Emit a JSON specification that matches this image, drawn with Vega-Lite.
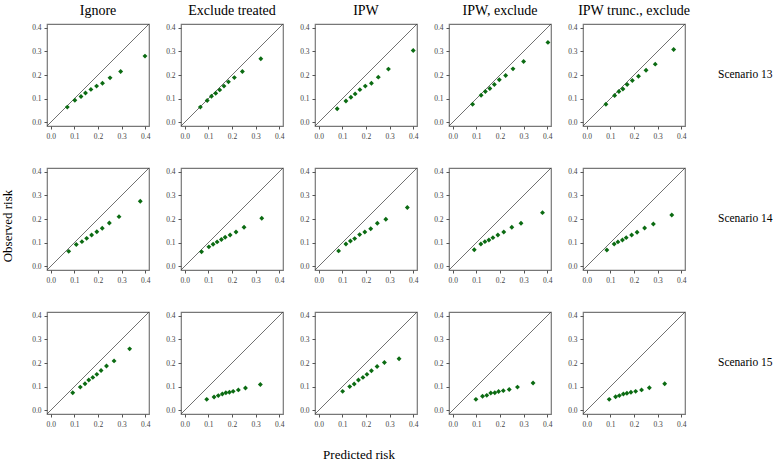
{
"$schema": "https://vega.github.io/schema/vega-lite/v6.json",
"background": "white",
"padding": {"left": 2, "top": 4, "right": 2, "bottom": 2},
"bounds": "flush",
"data": {"values": [
{"m":"Ignore","s":"Scenario 13","k":1,"p":0.070,"o":0.064},{"m":"Ignore","s":"Scenario 13","k":2,"p":0.102,"o":0.093},{"m":"Ignore","s":"Scenario 13","k":3,"p":0.128,"o":0.109},{"m":"Ignore","s":"Scenario 13","k":4,"p":0.147,"o":0.124},{"m":"Ignore","s":"Scenario 13","k":5,"p":0.170,"o":0.139},{"m":"Ignore","s":"Scenario 13","k":6,"p":0.194,"o":0.153},{"m":"Ignore","s":"Scenario 13","k":7,"p":0.219,"o":0.165},{"m":"Ignore","s":"Scenario 13","k":8,"p":0.251,"o":0.188},{"m":"Ignore","s":"Scenario 13","k":9,"p":0.296,"o":0.215},{"m":"Ignore","s":"Scenario 13","k":10,"p":0.399,"o":0.280},
{"m":"Exclude treated","s":"Scenario 13","k":1,"p":0.066,"o":0.064},{"m":"Exclude treated","s":"Scenario 13","k":2,"p":0.095,"o":0.092},{"m":"Exclude treated","s":"Scenario 13","k":3,"p":0.113,"o":0.110},{"m":"Exclude treated","s":"Scenario 13","k":4,"p":0.131,"o":0.123},{"m":"Exclude treated","s":"Scenario 13","k":5,"p":0.148,"o":0.137},{"m":"Exclude treated","s":"Scenario 13","k":6,"p":0.166,"o":0.153},{"m":"Exclude treated","s":"Scenario 13","k":7,"p":0.185,"o":0.171},{"m":"Exclude treated","s":"Scenario 13","k":8,"p":0.210,"o":0.189},{"m":"Exclude treated","s":"Scenario 13","k":9,"p":0.244,"o":0.215},{"m":"Exclude treated","s":"Scenario 13","k":10,"p":0.322,"o":0.269},
{"m":"IPW","s":"Scenario 13","k":1,"p":0.078,"o":0.057},{"m":"IPW","s":"Scenario 13","k":2,"p":0.115,"o":0.090},{"m":"IPW","s":"Scenario 13","k":3,"p":0.136,"o":0.106},{"m":"IPW","s":"Scenario 13","k":4,"p":0.154,"o":0.120},{"m":"IPW","s":"Scenario 13","k":5,"p":0.174,"o":0.138},{"m":"IPW","s":"Scenario 13","k":6,"p":0.197,"o":0.153},{"m":"IPW","s":"Scenario 13","k":7,"p":0.223,"o":0.165},{"m":"IPW","s":"Scenario 13","k":8,"p":0.252,"o":0.191},{"m":"IPW","s":"Scenario 13","k":9,"p":0.295,"o":0.225},{"m":"IPW","s":"Scenario 13","k":10,"p":0.400,"o":0.304},
{"m":"IPW, exclude","s":"Scenario 13","k":1,"p":0.084,"o":0.076},{"m":"IPW, exclude","s":"Scenario 13","k":2,"p":0.120,"o":0.114},{"m":"IPW, exclude","s":"Scenario 13","k":3,"p":0.138,"o":0.130},{"m":"IPW, exclude","s":"Scenario 13","k":4,"p":0.157,"o":0.143},{"m":"IPW, exclude","s":"Scenario 13","k":5,"p":0.176,"o":0.160},{"m":"IPW, exclude","s":"Scenario 13","k":6,"p":0.197,"o":0.180},{"m":"IPW, exclude","s":"Scenario 13","k":7,"p":0.224,"o":0.198},{"m":"IPW, exclude","s":"Scenario 13","k":8,"p":0.255,"o":0.226},{"m":"IPW, exclude","s":"Scenario 13","k":9,"p":0.300,"o":0.257},{"m":"IPW, exclude","s":"Scenario 13","k":10,"p":0.403,"o":0.338},
{"m":"IPW trunc., exclude","s":"Scenario 13","k":1,"p":0.081,"o":0.076},{"m":"IPW trunc., exclude","s":"Scenario 13","k":2,"p":0.118,"o":0.113},{"m":"IPW trunc., exclude","s":"Scenario 13","k":3,"p":0.136,"o":0.130},{"m":"IPW trunc., exclude","s":"Scenario 13","k":4,"p":0.153,"o":0.141},{"m":"IPW trunc., exclude","s":"Scenario 13","k":5,"p":0.171,"o":0.160},{"m":"IPW trunc., exclude","s":"Scenario 13","k":6,"p":0.193,"o":0.177},{"m":"IPW trunc., exclude","s":"Scenario 13","k":7,"p":0.219,"o":0.195},{"m":"IPW trunc., exclude","s":"Scenario 13","k":8,"p":0.251,"o":0.220},{"m":"IPW trunc., exclude","s":"Scenario 13","k":9,"p":0.290,"o":0.246},{"m":"IPW trunc., exclude","s":"Scenario 13","k":10,"p":0.368,"o":0.308},
{"m":"Ignore","s":"Scenario 14","k":1,"p":0.076,"o":0.063},{"m":"Ignore","s":"Scenario 14","k":2,"p":0.108,"o":0.092},{"m":"Ignore","s":"Scenario 14","k":3,"p":0.132,"o":0.104},{"m":"Ignore","s":"Scenario 14","k":4,"p":0.152,"o":0.118},{"m":"Ignore","s":"Scenario 14","k":5,"p":0.173,"o":0.132},{"m":"Ignore","s":"Scenario 14","k":6,"p":0.195,"o":0.146},{"m":"Ignore","s":"Scenario 14","k":7,"p":0.218,"o":0.161},{"m":"Ignore","s":"Scenario 14","k":8,"p":0.248,"o":0.183},{"m":"Ignore","s":"Scenario 14","k":9,"p":0.289,"o":0.210},{"m":"Ignore","s":"Scenario 14","k":10,"p":0.379,"o":0.275},
{"m":"Exclude treated","s":"Scenario 14","k":1,"p":0.071,"o":0.061},{"m":"Exclude treated","s":"Scenario 14","k":2,"p":0.102,"o":0.082},{"m":"Exclude treated","s":"Scenario 14","k":3,"p":0.120,"o":0.093},{"m":"Exclude treated","s":"Scenario 14","k":4,"p":0.137,"o":0.103},{"m":"Exclude treated","s":"Scenario 14","k":5,"p":0.155,"o":0.113},{"m":"Exclude treated","s":"Scenario 14","k":6,"p":0.171,"o":0.123},{"m":"Exclude treated","s":"Scenario 14","k":7,"p":0.192,"o":0.132},{"m":"Exclude treated","s":"Scenario 14","k":8,"p":0.217,"o":0.145},{"m":"Exclude treated","s":"Scenario 14","k":9,"p":0.251,"o":0.165},{"m":"Exclude treated","s":"Scenario 14","k":10,"p":0.326,"o":0.203},
{"m":"IPW","s":"Scenario 14","k":1,"p":0.084,"o":0.065},{"m":"IPW","s":"Scenario 14","k":2,"p":0.115,"o":0.094},{"m":"IPW","s":"Scenario 14","k":3,"p":0.134,"o":0.107},{"m":"IPW","s":"Scenario 14","k":4,"p":0.152,"o":0.117},{"m":"IPW","s":"Scenario 14","k":5,"p":0.173,"o":0.134},{"m":"IPW","s":"Scenario 14","k":6,"p":0.195,"o":0.145},{"m":"IPW","s":"Scenario 14","k":7,"p":0.220,"o":0.159},{"m":"IPW","s":"Scenario 14","k":8,"p":0.248,"o":0.182},{"m":"IPW","s":"Scenario 14","k":9,"p":0.284,"o":0.199},{"m":"IPW","s":"Scenario 14","k":10,"p":0.375,"o":0.249},
{"m":"IPW, exclude","s":"Scenario 14","k":1,"p":0.091,"o":0.070},{"m":"IPW, exclude","s":"Scenario 14","k":2,"p":0.119,"o":0.094},{"m":"IPW, exclude","s":"Scenario 14","k":3,"p":0.136,"o":0.104},{"m":"IPW, exclude","s":"Scenario 14","k":4,"p":0.153,"o":0.111},{"m":"IPW, exclude","s":"Scenario 14","k":5,"p":0.170,"o":0.121},{"m":"IPW, exclude","s":"Scenario 14","k":6,"p":0.191,"o":0.132},{"m":"IPW, exclude","s":"Scenario 14","k":7,"p":0.216,"o":0.145},{"m":"IPW, exclude","s":"Scenario 14","k":8,"p":0.250,"o":0.165},{"m":"IPW, exclude","s":"Scenario 14","k":9,"p":0.289,"o":0.182},{"m":"IPW, exclude","s":"Scenario 14","k":10,"p":0.380,"o":0.227},
{"m":"IPW trunc., exclude","s":"Scenario 14","k":1,"p":0.085,"o":0.069},{"m":"IPW trunc., exclude","s":"Scenario 14","k":2,"p":0.116,"o":0.094},{"m":"IPW trunc., exclude","s":"Scenario 14","k":3,"p":0.132,"o":0.103},{"m":"IPW trunc., exclude","s":"Scenario 14","k":4,"p":0.151,"o":0.111},{"m":"IPW trunc., exclude","s":"Scenario 14","k":5,"p":0.167,"o":0.121},{"m":"IPW trunc., exclude","s":"Scenario 14","k":6,"p":0.190,"o":0.132},{"m":"IPW trunc., exclude","s":"Scenario 14","k":7,"p":0.213,"o":0.144},{"m":"IPW trunc., exclude","s":"Scenario 14","k":8,"p":0.245,"o":0.162},{"m":"IPW trunc., exclude","s":"Scenario 14","k":9,"p":0.282,"o":0.179},{"m":"IPW trunc., exclude","s":"Scenario 14","k":10,"p":0.360,"o":0.217},
{"m":"Ignore","s":"Scenario 15","k":1,"p":0.093,"o":0.074},{"m":"Ignore","s":"Scenario 15","k":2,"p":0.125,"o":0.098},{"m":"Ignore","s":"Scenario 15","k":3,"p":0.145,"o":0.112},{"m":"Ignore","s":"Scenario 15","k":4,"p":0.161,"o":0.128},{"m":"Ignore","s":"Scenario 15","k":5,"p":0.178,"o":0.139},{"m":"Ignore","s":"Scenario 15","k":6,"p":0.195,"o":0.152},{"m":"Ignore","s":"Scenario 15","k":7,"p":0.213,"o":0.168},{"m":"Ignore","s":"Scenario 15","k":8,"p":0.236,"o":0.187},{"m":"Ignore","s":"Scenario 15","k":9,"p":0.268,"o":0.209},{"m":"Ignore","s":"Scenario 15","k":10,"p":0.334,"o":0.260},
{"m":"Exclude treated","s":"Scenario 15","k":1,"p":0.093,"o":0.046},{"m":"Exclude treated","s":"Scenario 15","k":2,"p":0.124,"o":0.056},{"m":"Exclude treated","s":"Scenario 15","k":3,"p":0.142,"o":0.062},{"m":"Exclude treated","s":"Scenario 15","k":4,"p":0.159,"o":0.069},{"m":"Exclude treated","s":"Scenario 15","k":5,"p":0.174,"o":0.074},{"m":"Exclude treated","s":"Scenario 15","k":6,"p":0.189,"o":0.076},{"m":"Exclude treated","s":"Scenario 15","k":7,"p":0.205,"o":0.080},{"m":"Exclude treated","s":"Scenario 15","k":8,"p":0.227,"o":0.086},{"m":"Exclude treated","s":"Scenario 15","k":9,"p":0.257,"o":0.094},{"m":"Exclude treated","s":"Scenario 15","k":10,"p":0.320,"o":0.109},
{"m":"IPW","s":"Scenario 15","k":1,"p":0.101,"o":0.080},{"m":"IPW","s":"Scenario 15","k":2,"p":0.131,"o":0.100},{"m":"IPW","s":"Scenario 15","k":3,"p":0.150,"o":0.111},{"m":"IPW","s":"Scenario 15","k":4,"p":0.168,"o":0.128},{"m":"IPW","s":"Scenario 15","k":5,"p":0.187,"o":0.139},{"m":"IPW","s":"Scenario 15","k":6,"p":0.204,"o":0.152},{"m":"IPW","s":"Scenario 15","k":7,"p":0.223,"o":0.167},{"m":"IPW","s":"Scenario 15","k":8,"p":0.247,"o":0.185},{"m":"IPW","s":"Scenario 15","k":9,"p":0.278,"o":0.202},{"m":"IPW","s":"Scenario 15","k":10,"p":0.340,"o":0.218},
{"m":"IPW, exclude","s":"Scenario 15","k":1,"p":0.098,"o":0.046},{"m":"IPW, exclude","s":"Scenario 15","k":2,"p":0.126,"o":0.059},{"m":"IPW, exclude","s":"Scenario 15","k":3,"p":0.144,"o":0.063},{"m":"IPW, exclude","s":"Scenario 15","k":4,"p":0.161,"o":0.073},{"m":"IPW, exclude","s":"Scenario 15","k":5,"p":0.178,"o":0.074},{"m":"IPW, exclude","s":"Scenario 15","k":6,"p":0.194,"o":0.079},{"m":"IPW, exclude","s":"Scenario 15","k":7,"p":0.214,"o":0.083},{"m":"IPW, exclude","s":"Scenario 15","k":8,"p":0.239,"o":0.088},{"m":"IPW, exclude","s":"Scenario 15","k":9,"p":0.274,"o":0.098},{"m":"IPW, exclude","s":"Scenario 15","k":10,"p":0.340,"o":0.115},
{"m":"IPW trunc., exclude","s":"Scenario 15","k":1,"p":0.095,"o":0.046},{"m":"IPW trunc., exclude","s":"Scenario 15","k":2,"p":0.122,"o":0.057},{"m":"IPW trunc., exclude","s":"Scenario 15","k":3,"p":0.138,"o":0.062},{"m":"IPW trunc., exclude","s":"Scenario 15","k":4,"p":0.155,"o":0.069},{"m":"IPW trunc., exclude","s":"Scenario 15","k":5,"p":0.170,"o":0.072},{"m":"IPW trunc., exclude","s":"Scenario 15","k":6,"p":0.187,"o":0.076},{"m":"IPW trunc., exclude","s":"Scenario 15","k":7,"p":0.207,"o":0.080},{"m":"IPW trunc., exclude","s":"Scenario 15","k":8,"p":0.232,"o":0.086},{"m":"IPW trunc., exclude","s":"Scenario 15","k":9,"p":0.265,"o":0.095},{"m":"IPW trunc., exclude","s":"Scenario 15","k":10,"p":0.330,"o":0.112}
]},
"facet": {
  "column": {"field": "m", "type": "nominal", "sort": ["Ignore","Exclude treated","IPW","IPW, exclude","IPW trunc., exclude"], "title": "Predicted risk",
    "header": {"labelOrient": "top", "titleOrient": "bottom", "labelFont": "Liberation Serif", "labelFontSize": 14, "labelColor": "black", "labelPadding": 6, "titleFont": "Liberation Serif", "titleFontSize": 13, "titleFontWeight": "normal", "titleColor": "black", "titlePadding": 25}},
  "row": {"field": "s", "type": "nominal", "sort": ["Scenario 13","Scenario 14","Scenario 15"], "title": "Observed risk",
    "header": {"labelOrient": "right", "titleOrient": "left", "labelAngle": 0, "labelFont": "Liberation Serif", "labelFontSize": 11.5, "labelColor": "black", "labelPadding": 33, "titleFont": "Liberation Serif", "titleFontSize": 13, "titleFontWeight": "normal", "titleColor": "black", "titlePadding": 22}}
},
"spacing": {"column": 32, "row": 42},
"resolve": {"axis": {"x": "independent", "y": "independent"}},
"spec": {
  "width": 102,
  "height": 102,
  "layer": [
    {
      "transform": [{"filter": "datum.k == 1"}],
      "mark": {"type": "rule", "color": "#333333", "strokeWidth": 0.7},
      "encoding": {
        "x": {"datum": -0.016, "type": "quantitative", "scale": {"domain": [-0.016, 0.416], "nice": false, "zero": false},
          "axis": {"values": [0, 0.1, 0.2, 0.3, 0.4], "format": ".1f", "title": null, "grid": false, "domain": false, "ticks": true, "tickSize": 3, "tickColor": "#555", "labelFont": "Liberation Serif", "labelFontSize": 7.5, "labelColor": "#444", "labelPadding": 3, "labelOverlap": false, "labelFlush": false}},
        "y": {"datum": -0.016, "type": "quantitative", "scale": {"domain": [-0.016, 0.416], "nice": false, "zero": false},
          "axis": {"values": [0, 0.1, 0.2, 0.3, 0.4], "format": ".1f", "title": null, "grid": false, "domain": false, "ticks": true, "tickSize": 3, "tickColor": "#555", "labelFont": "Liberation Serif", "labelFontSize": 7.5, "labelColor": "#444", "labelPadding": 3, "labelOverlap": false, "labelFlush": false}},
        "x2": {"datum": 0.416},
        "y2": {"datum": 0.416}
      }
    },
    {
      "mark": {"type": "point", "shape": "diamond", "filled": true, "color": "#0b6b12", "size": 24, "opacity": 1},
      "encoding": {
        "x": {"field": "p", "type": "quantitative", "scale": {"domain": [-0.016, 0.416], "nice": false, "zero": false},
          "axis": {"values": [0, 0.1, 0.2, 0.3, 0.4], "format": ".1f", "title": null, "grid": false, "domain": false, "ticks": true, "tickSize": 3, "tickColor": "#555", "labelFont": "Liberation Serif", "labelFontSize": 7.5, "labelColor": "#444", "labelPadding": 3, "labelOverlap": false, "labelFlush": false}},
        "y": {"field": "o", "type": "quantitative", "scale": {"domain": [-0.016, 0.416], "nice": false, "zero": false},
          "axis": {"values": [0, 0.1, 0.2, 0.3, 0.4], "format": ".1f", "title": null, "grid": false, "domain": false, "ticks": true, "tickSize": 3, "tickColor": "#555", "labelFont": "Liberation Serif", "labelFontSize": 7.5, "labelColor": "#444", "labelPadding": 3, "labelOverlap": false, "labelFlush": false}}
      }
    }
  ]
},
"config": {
  "view": {"stroke": "#777777", "strokeWidth": 1.2},
  "font": "Liberation Serif"
}
}
